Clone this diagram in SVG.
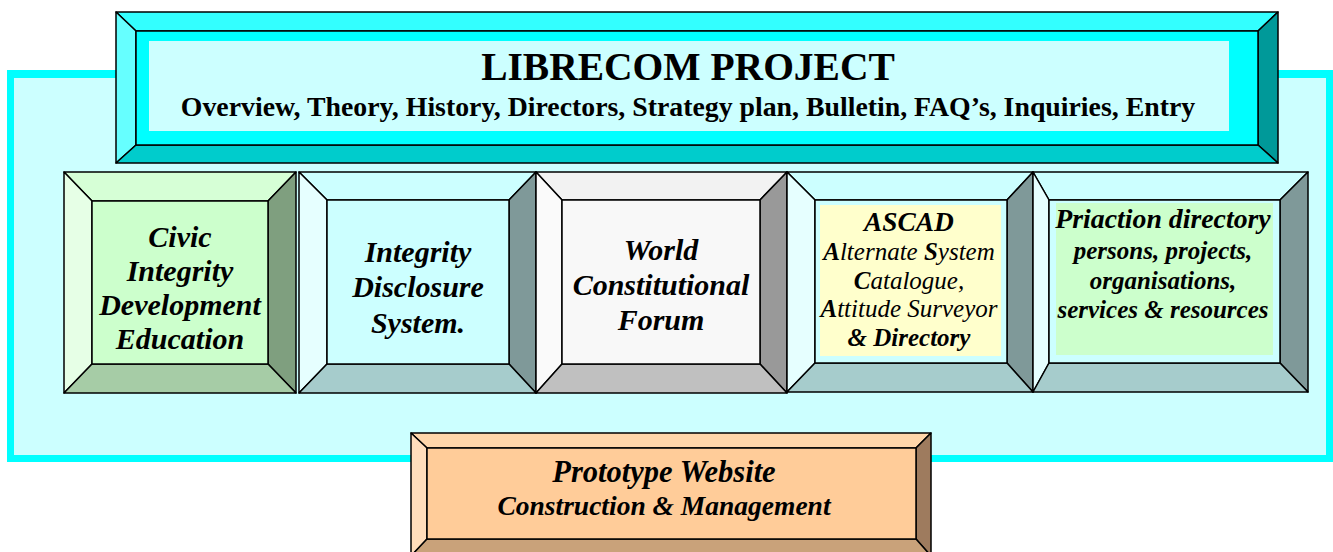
<svg xmlns="http://www.w3.org/2000/svg" width="1333" height="552" viewBox="0 0 1333 552">
  <style>
    .edge { stroke: #000; stroke-width: 1.5; stroke-linejoin: round; }
    .title { font-family: "Liberation Serif", "Times New Roman", serif; font-weight: bold; fill: #000; text-anchor: middle; }
    .lbl { font-family: "Liberation Serif", "Times New Roman", serif; font-weight: bold; font-style: italic; fill: #000; text-anchor: middle; }
    .thin { font-weight: normal; }
    /* bevel palettes */
    .c-top { fill: #33FFFF; } .c-left { fill: #66FFFF; } .c-right { fill: #009999; } .c-bot { fill: #00CCCC; } .c-mid { fill: #00FFFF; }
    .g-top { fill: #D6FFD6; } .g-left { fill: #E6FFE6; } .g-right { fill: #7F9F7F; } .g-bot { fill: #A6CCA6; } .g-mid { fill: #CCFFCC; }
    .t-top { fill: #CCFFFF; } .t-left { fill: #E6FFFF; } .t-right { fill: #7F9999; } .t-bot { fill: #A6CCCC; } .t-mid { fill: #CCFFFF; }
    .s-top { fill: #F2F2F2; } .s-left { fill: #FAFAFA; } .s-right { fill: #999999; } .s-bot { fill: #C0C0C0; } .s-mid { fill: #F8F8F8; }
    .p-top { fill: #FFD6AA; } .p-left { fill: #FFDDBB; } .p-right { fill: #9E7B5E; } .p-bot { fill: #C9A27A; } .p-mid { fill: #FFCC99; }
  </style>

  <!-- background panel -->
  <rect x="7" y="70" width="1340" height="392" fill="#00FFFF"/>
  <rect x="14" y="78" width="1312" height="377" fill="#CCFFFF"/>

  <!-- header block -->
  <g id="librecom-project">
    <polygon class="edge c-top" points="116,12 1278,12 1258,31 136,31"/>
    <polygon class="edge c-left" points="116,12 136,31 136,145 116,163"/>
    <polygon class="edge c-right" points="1278,12 1278,163 1258,145 1258,31"/>
    <polygon class="edge c-bot" points="116,163 136,145 1258,145 1278,163"/>
    <rect class="edge c-mid" x="136" y="31" width="1122" height="114"/>
    <rect x="149" y="41" width="1080" height="90" fill="#CCFFFF"/>
    <text class="title" x="688" y="80" font-size="39.5">LIBRECOM PROJECT</text>
    <text class="title" x="688" y="116" font-size="27.8">Overview, Theory, History, Directors, Strategy plan, Bulletin, FAQ’s, Inquiries, Entry</text>
  </g>

  <!-- civic integrity -->
  <g id="civic-integrity">
    <polygon class="edge g-top" points="64,172 296,172 268,201 92,201"/>
    <polygon class="edge g-left" points="64,172 92,201 92,364 64,393"/>
    <polygon class="edge g-right" points="296,172 296,393 268,364 268,201"/>
    <polygon class="edge g-bot" points="64,393 92,364 268,364 296,393"/>
    <rect class="edge g-mid" x="92" y="201" width="176" height="163"/>
    <text class="lbl" font-size="30" x="180" y="247">Civic</text>
    <text class="lbl" font-size="30" x="180" y="281">Integrity</text>
    <text class="lbl" font-size="30" x="180" y="315">Development</text>
    <text class="lbl" font-size="30" x="180" y="349">Education</text>
  </g>

  <!-- integrity disclosure -->
  <g id="integrity-disclosure">
    <polygon class="edge t-top" points="299,172 536,172 509,200 327,200"/>
    <polygon class="edge t-left" points="299,172 327,200 327,364 299,393"/>
    <polygon class="edge t-right" points="536,172 536,393 509,364 509,200"/>
    <polygon class="edge t-bot" points="299,393 327,364 509,364 536,393"/>
    <rect class="edge t-mid" x="327" y="200" width="182" height="164"/>
    <text class="lbl" font-size="30" x="418" y="262">Integrity</text>
    <text class="lbl" font-size="30" x="418" y="297">Disclosure</text>
    <text class="lbl" font-size="30" x="418" y="333">System.</text>
  </g>

  <!-- world constitutional forum -->
  <g id="world-forum">
    <polygon class="edge s-top" points="536,172 787,172 760,200 562,200"/>
    <polygon class="edge s-left" points="536,172 562,200 562,364 536,393"/>
    <polygon class="edge s-right" points="787,172 787,393 760,364 760,200"/>
    <polygon class="edge s-bot" points="536,393 562,364 760,364 787,393"/>
    <rect class="edge s-mid" x="562" y="200" width="198" height="164"/>
    <text class="lbl" font-size="30" x="661" y="260">World</text>
    <text class="lbl" font-size="30" x="661" y="295">Constitutional</text>
    <text class="lbl" font-size="30" x="661" y="330">Forum</text>
  </g>

  <!-- ascad -->
  <g id="ascad">
    <polygon class="edge t-top" points="787,172 1033,172 1007,200 815,200"/>
    <polygon class="edge t-left" points="787,172 815,200 815,363 787,392"/>
    <polygon class="edge t-right" points="1033,172 1033,392 1007,363 1007,200"/>
    <polygon class="edge t-bot" points="787,392 815,363 1007,363 1033,392"/>
    <rect class="edge t-mid" x="815" y="200" width="192" height="163"/>
    <rect x="820" y="205" width="181" height="151" fill="#FFFFCC"/>
    <text class="lbl" font-size="27.4" x="909" y="231">ASCAD</text>
    <text class="lbl thin" font-size="25" x="909" y="260"><tspan font-weight="bold">A</tspan>lternate <tspan font-weight="bold">S</tspan>ystem</text>
    <text class="lbl thin" font-size="25" x="909" y="289"><tspan font-weight="bold">C</tspan>atalogue,</text>
    <text class="lbl thin" font-size="25" x="909" y="317"><tspan font-weight="bold">A</tspan>ttitude Surveyor</text>
    <text class="lbl" font-size="25" x="909" y="346">&amp; Directory</text>
  </g>

  <!-- priaction directory -->
  <g id="priaction-directory">
    <polygon class="edge t-top" points="1033,172 1308,172 1280,200 1049,200"/>
    <polygon class="edge t-left" points="1033,172 1049,200 1049,363 1033,392"/>
    <polygon class="edge t-right" points="1308,172 1308,392 1280,363 1280,200"/>
    <polygon class="edge t-bot" points="1033,392 1049,363 1280,363 1308,392"/>
    <rect class="edge t-mid" x="1049" y="200" width="231" height="163"/>
    <rect x="1056" y="203" width="217" height="152" fill="#CCFFCC"/>
    <text class="lbl" font-size="27.8" x="1163" y="228">Priaction directory</text>
    <text class="lbl" font-size="25" x="1163" y="259">persons, projects,</text>
    <text class="lbl" font-size="25" x="1163" y="289">organisations,</text>
    <text class="lbl" font-size="25" x="1163" y="318">services &amp; resources</text>
  </g>

  <!-- prototype website -->
  <g id="prototype-website">
    <polygon class="edge p-top" points="411,433 931,433 916,448 427,448"/>
    <polygon class="edge p-left" points="411,433 427,448 427,539 411,556"/>
    <polygon class="edge p-right" points="931,433 931,556 916,539 916,448"/>
    <polygon class="edge p-bot" points="411,556 427,539 916,539 931,556"/>
    <rect class="edge p-mid" x="427" y="448" width="489" height="91"/>
    <text class="lbl" font-size="30.5" x="664" y="482">Prototype Website</text>
    <text class="lbl" font-size="27.5" x="664" y="515">Construction &amp; Management</text>
  </g>
</svg>
